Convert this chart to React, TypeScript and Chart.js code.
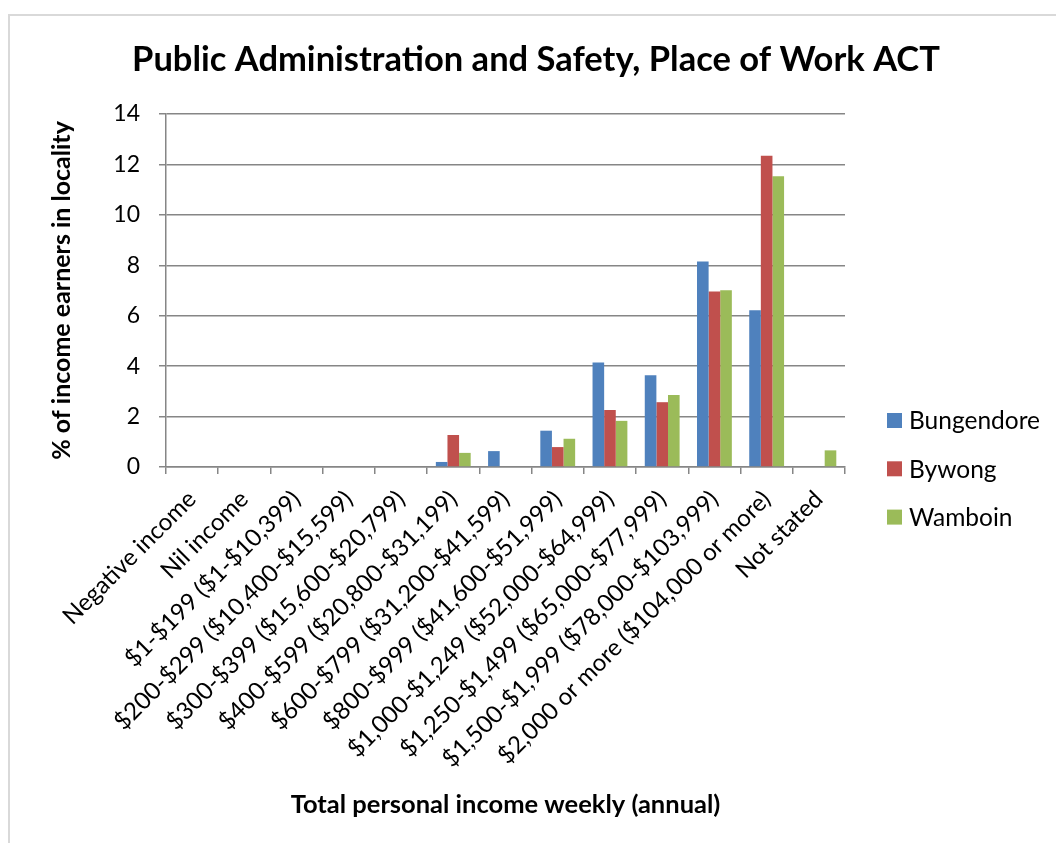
import React, { useEffect, useRef } from "react";
import { Chart, registerables } from "chart.js";

Chart.register(...registerables);

const chartTitle = "Public Administration and Safety, Place of Work ACT";
const yAxisTitle = "% of income earners in locality";
const xAxisTitle = "Total personal income weekly (annual)";

const categories = [
  "Negative income",
  "Nil income",
  "$1-$199 ($1-$10,399)",
  "$200-$299 ($10,400-$15,599)",
  "$300-$399 ($15,600-$20,799)",
  "$400-$599 ($20,800-$31,199)",
  "$600-$799 ($31,200-$41,599)",
  "$800-$999 ($41,600-$51,999)",
  "$1,000-$1,249 ($52,000-$64,999)",
  "$1,250-$1,499 ($65,000-$77,999)",
  "$1,500-$1,999 ($78,000-$103,999)",
  "$2,000 or more ($104,000 or more)",
  "Not stated",
];

const seriesNames = ["Bungendore", "Bywong", "Wamboin"];
const bungendore = [0, 0, 0, 0, 0, 0.2, 0.63, 1.44, 4.14, 3.64, 8.15, 6.22, 0];
const bywong = [0, 0, 0, 0, 0, 1.27, 0, 0.79, 2.26, 2.57, 6.96, 12.34, 0];
const wamboin = [0, 0, 0, 0, 0, 0.56, 0, 1.12, 1.83, 2.86, 7.01, 11.53, 0.66];
const seriesColors = ["#4F81BD", "#C0504D", "#9BBB59"];

const yMin = 0;
const yMax = 14;
const yStep = 2;

const FONT = "Lato, 'Open Sans', sans-serif";
const GRID = "#868686";

const decorPlugin = {
  id: "decor",
  beforeDraw(chart: any) {
    const ctx = chart.ctx;
    ctx.save();
    ctx.fillStyle = "#ffffff";
    ctx.fillRect(0, 0, chart.width, chart.height);
    ctx.strokeStyle = "#d9d9d9";
    ctx.lineWidth = 2;
    ctx.beginPath();
    ctx.moveTo(9, chart.height);
    ctx.lineTo(9, 15);
    ctx.lineTo(chart.width, 15);
    ctx.stroke();
    ctx.restore();
  },
  afterDraw(chart: any) {
    const ctx = chart.ctx;
    ctx.save();
    // title
    ctx.fillStyle = "#000000";
    ctx.font = `bold 34.5px ${FONT}`;
    ctx.textAlign = "center";
    ctx.textBaseline = "middle";
    ctx.fillText(chartTitle, 536, 60);
    // legend
    ctx.font = `24.5px ${FONT}`;
    ctx.textAlign = "left";
    chart.data.datasets.forEach((ds: any, i: number) => {
      const cy = 420.5 + i * 48.3;
      ctx.fillStyle = ds.backgroundColor;
      ctx.fillRect(887, cy - 7.5, 15, 15);
      ctx.fillStyle = "#000000";
      ctx.fillText(ds.label, 909, cy + 1);
    });
    ctx.restore();
  },
};

export default function App() {
  const ref = useRef<HTMLCanvasElement | null>(null);
  useEffect(() => {
    if (!ref.current) return;
    const chart = new Chart(ref.current, {
      type: "bar",
      data: {
        labels: categories,
        datasets: [bungendore, bywong, wamboin].map((d, i) => ({
          label: seriesNames[i],
          data: d,
          backgroundColor: seriesColors[i],
          borderWidth: 0,
          categoryPercentage: 0.667,
          barPercentage: 1,
        })),
      },
      options: {
        animation: false,
        responsive: false,
        maintainAspectRatio: false,
        layout: { padding: { left: 40, right: 211, top: 114, bottom: 0 } },
        plugins: {
          legend: { display: false },
          title: { display: false },
          tooltip: { enabled: false },
        },
        scales: {
          x: {
            afterFit: (s: any) => {
              s.height = 376;
            },
            grid: {
              offset: true,
              drawOnChartArea: false,
              drawTicks: true,
              tickLength: 7,
              color: GRID,
              lineWidth: 1.5,
            },
            border: { color: GRID, width: 1.5 },
            ticks: {
              autoSkip: false,
              minRotation: 45,
              maxRotation: 45,
              padding: 11,
              color: "#000000",
              font: { family: FONT, size: 24 },
            },
            title: {
              display: true,
              text: xAxisTitle,
              color: "#000000",
              font: { family: FONT, size: 25.5, weight: "bold" },
              padding: { top: 0, bottom: 23 },
            },
          },
          y: {
            min: yMin,
            max: yMax,
            afterFit: (s: any) => {
              s.width = 126;
            },
            grid: {
              drawTicks: true,
              tickLength: 7,
              color: GRID,
              lineWidth: 1.5,
            },
            border: { color: GRID, width: 1.5 },
            ticks: {
              stepSize: yStep,
              padding: 19,
              color: "#000000",
              font: { family: FONT, size: 23 },
            },
            title: {
              display: true,
              text: yAxisTitle,
              color: "#000000",
              font: { family: FONT, size: 25, weight: "bold" },
              padding: { top: 7, bottom: 0 },
            },
          },
        },
      },
      plugins: [decorPlugin],
    } as any);
    return () => chart.destroy();
  }, []);
  return (
    <div style={{ position: "fixed", left: 0, top: 0, width: 1056, height: 843 }}>
      <canvas ref={ref} width={1056} height={843} style={{ display: "block" }} />
    </div>
  );
}
